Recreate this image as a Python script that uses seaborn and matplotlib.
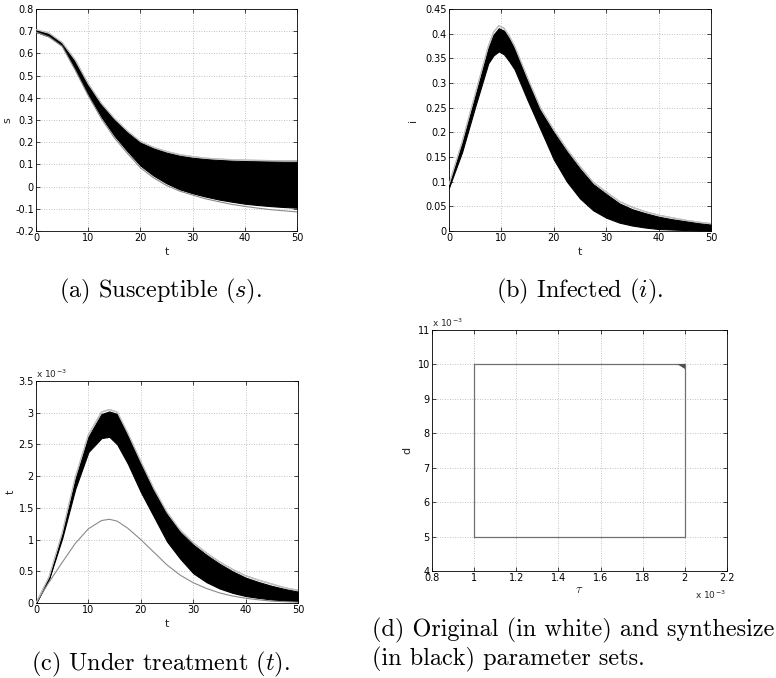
import numpy as np
import pandas as pd
import seaborn as sns
import matplotlib
matplotlib.use("Agg")
import matplotlib.pyplot as plt

sns.set_theme(style="white")
plt.rcParams['font.family'] = ['DejaVu Sans']
plt.rcParams['mathtext.fontset'] = 'cm'

# ---------------- data ----------------
t_a = [0, 2.5, 5, 7.5, 10, 12.5, 15, 17.5, 20, 22.5, 25, 27.5, 30, 32.5, 35, 37.5, 40, 42.5, 45, 47.5, 50]
s_hi = [0.705, 0.688, 0.645, 0.565, 0.458, 0.37, 0.302, 0.245, 0.198, 0.172, 0.153, 0.139, 0.13, 0.124, 0.12, 0.117, 0.115, 0.114, 0.113, 0.112, 0.112]
s_lo = [0.697, 0.676, 0.635, 0.53, 0.415, 0.315, 0.23, 0.16, 0.095, 0.05, 0.015, -0.012, -0.03, -0.045, -0.058, -0.068, -0.077, -0.083, -0.088, -0.092, -0.095]
s_orig_hi = [0.707, 0.691, 0.649, 0.57, 0.463, 0.375, 0.307, 0.25, 0.203, 0.177, 0.158, 0.144, 0.135, 0.128, 0.124, 0.121, 0.119, 0.118, 0.117, 0.117, 0.117]
s_orig_lo = [0.696, 0.674, 0.632, 0.525, 0.41, 0.307, 0.22, 0.15, 0.085, 0.04, 0.005, -0.02, -0.038, -0.055, -0.068, -0.08, -0.089, -0.097, -0.104, -0.109, -0.114]

t_b = [0, 2.5, 5, 7.5, 8.5, 9.5, 10.5, 11.5, 12.5, 15, 17.5, 20, 22.5, 25, 27.5, 30, 32.5, 35, 37.5, 40, 42.5, 45, 47.5, 50]
i_hi = [0.092, 0.177, 0.273, 0.37, 0.398, 0.411, 0.406, 0.39, 0.37, 0.305, 0.243, 0.20, 0.161, 0.126, 0.095, 0.075, 0.056, 0.044, 0.036, 0.029, 0.024, 0.02, 0.016, 0.013]
i_lo = [0.088, 0.16, 0.252, 0.34, 0.356, 0.364, 0.358, 0.344, 0.328, 0.265, 0.205, 0.145, 0.10, 0.066, 0.042, 0.027, 0.017, 0.011, 0.007, 0.004, 0.003, 0.002, 0.001, 0.001]
i_orig_hi = [0.094, 0.18, 0.277, 0.374, 0.403, 0.416, 0.411, 0.395, 0.375, 0.31, 0.248, 0.205, 0.166, 0.131, 0.099, 0.079, 0.06, 0.048, 0.039, 0.032, 0.027, 0.022, 0.018, 0.015]

t_c = [0, 2.5, 5, 7.5, 10, 12.5, 14, 15.5, 17.5, 20, 22.5, 25, 27.5, 30, 32.5, 35, 37.5, 40, 42.5, 45, 47.5, 50]
tr_hi = [0, 0.4, 1.08, 1.95, 2.62, 2.98, 3.02, 2.98, 2.65, 2.2, 1.77, 1.4, 1.12, 0.92, 0.76, 0.62, 0.5, 0.4, 0.33, 0.27, 0.22, 0.18]
tr_lo = [0, 0.38, 1.02, 1.8, 2.38, 2.6, 2.62, 2.5, 2.2, 1.75, 1.36, 0.97, 0.7, 0.47, 0.33, 0.23, 0.16, 0.11, 0.08, 0.055, 0.04, 0.03]
tr_orig_hi = [0, 0.41, 1.1, 1.98, 2.65, 3.01, 3.05, 3.01, 2.68, 2.23, 1.8, 1.43, 1.15, 0.95, 0.79, 0.65, 0.53, 0.43, 0.36, 0.3, 0.24, 0.2]
tr_orig_lo = [0, 0.33, 0.64, 0.94, 1.17, 1.3, 1.32, 1.29, 1.18, 1.0, 0.8, 0.6, 0.44, 0.32, 0.23, 0.16, 0.11, 0.075, 0.05, 0.03, 0.02, 0.012]

tau_box = [1.0, 2.0, 2.0, 1.0, 1.0]
d_box = [5.0, 5.0, 10.0, 10.0, 5.0]
tri_tau = [1.965, 2.0, 2.0]
tri_d = [10.0, 10.0, 9.88]

captions = ["(a) Susceptible ($s$).", "(b) Infected ($i$).", "(c) Under treatment ($t$).",
            "(d) Original (in white) and synthesize\n(in black) parameter sets."]

# ---------------- figure ----------------
fig = plt.figure(figsize=(7.76, 6.78), dpi=100)
W, H = 776, 678

def ax_px(l, t, r, b):
    return fig.add_axes([l / W, 1 - b / H, (r - l) / W, (b - t) / H])

ax_a = ax_px(36, 9, 297, 231)
ax_b = ax_px(449, 9, 711, 231)
ax_c = ax_px(36, 381, 298, 603)
ax_d = ax_px(432, 330, 727, 571)

GREY = "#8a8a8a"
TF = 7

def style(ax):
    ax.grid(True, linestyle=(0, (1, 2)), color="#b0b0b0", linewidth=0.6)
    ax.tick_params(direction="in", length=3, width=0.5, labelsize=TF, pad=1.5,
                   top=True, right=True, bottom=True, left=True, colors="black")
    for sp in ax.spines.values():
        sp.set_linewidth(0.6)
        sp.set_color("black")
        sp.set_visible(True)
    ax.set_facecolor("white")

def band(ax, t, lo, hi, ohi, olo=None):
    ax.fill_between(t, lo, hi, color="black", linewidth=0.8, edgecolor="black", zorder=3)
    df = pd.DataFrame({"t": t, "v": ohi})
    sns.lineplot(data=df, x="t", y="v", ax=ax, color=GREY, linewidth=0.9, zorder=4, estimator=None)
    sns.lineplot(data=df, x="t", y="v", ax=ax, color="white", linewidth=0.3, zorder=5, estimator=None)
    if olo is not None:
        df2 = pd.DataFrame({"t": t, "v": olo})
        sns.lineplot(data=df2, x="t", y="v", ax=ax, color=GREY, linewidth=0.8, zorder=4, estimator=None)

xt = [0, 10, 20, 30, 40, 50]

# (a)
style(ax_a)
band(ax_a, t_a, s_lo, s_hi, s_orig_hi, s_orig_lo)
ax_a.set_xlim(0, 50); ax_a.set_ylim(-0.2, 0.8)
ax_a.set_xticks(xt)
ax_a.set_yticks(np.arange(-0.2, 0.81, 0.1))
ax_a.set_yticklabels(["-0.2", "-0.1", "0", "0.1", "0.2", "0.3", "0.4", "0.5", "0.6", "0.7", "0.8"])
ax_a.set_xlabel("t", fontsize=8, labelpad=3)
ax_a.set_ylabel("s", fontsize=8, labelpad=2)

# (b)
style(ax_b)
band(ax_b, t_b, i_lo, i_hi, i_orig_hi)
ax_b.set_xlim(0, 50); ax_b.set_ylim(0, 0.45)
ax_b.set_xticks(xt)
ax_b.set_yticks(np.arange(0, 0.451, 0.05))
ax_b.set_yticklabels(["0", "0.05", "0.1", "0.15", "0.2", "0.25", "0.3", "0.35", "0.4", "0.45"])
ax_b.set_xlabel("t", fontsize=8, labelpad=3)
ax_b.set_ylabel("i", fontsize=8, labelpad=5)

# (c)
style(ax_c)
band(ax_c, t_c, tr_lo, tr_hi, tr_orig_hi, tr_orig_lo)
ax_c.set_xlim(0, 50); ax_c.set_ylim(0, 3.5)
ax_c.set_xticks(xt)
ax_c.set_yticks(np.arange(0, 3.51, 0.5))
ax_c.set_yticklabels(["0", "0.5", "1", "1.5", "2", "2.5", "3", "3.5"])
ax_c.set_xlabel("t", fontsize=8, labelpad=3)
ax_c.set_ylabel("t", fontsize=8, labelpad=2)
ax_c.text(0.0, 1.005, r"x 10$^{\mathregular{-3}}$", transform=ax_c.transAxes, fontsize=6.5, va="bottom", ha="left")

# (d)
style(ax_d)
df_box = pd.DataFrame({"tau": tau_box, "d": d_box})
sns.lineplot(data=df_box, x="tau", y="d", ax=ax_d, sort=False, estimator=None,
             color="#707070", linewidth=0.9, zorder=4)
ax_d.fill(tri_tau, tri_d, color="#505050", zorder=5, linewidth=0)
ax_d.set_xlim(0.8, 2.2); ax_d.set_ylim(4, 11)
ax_d.set_xticks([0.8, 1.0, 1.2, 1.4, 1.6, 1.8, 2.0, 2.2])
ax_d.set_xticklabels(["0.8", "1", "1.2", "1.4", "1.6", "1.8", "2", "2.2"])
ax_d.set_yticks([4, 5, 6, 7, 8, 9, 10, 11])
ax_d.set_yticklabels(["4", "5", "6", "7", "8", "9", "10", "11"])
ax_d.set_xlabel(r"$\tau$", fontsize=9, labelpad=0)
ax_d.set_ylabel("d", fontsize=8, labelpad=4)
ax_d.text(0.0, 1.005, r"x 10$^{\mathregular{-3}}$", transform=ax_d.transAxes, fontsize=6.5, va="bottom", ha="left")
ax_d.text(0.995, -0.075, r"x 10$^{\mathregular{-3}}$", transform=ax_d.transAxes, fontsize=6.5, va="top", ha="right")

# captions
cf = dict(fontsize=17.5, family="cmr10", color="black")
fig.text(160 / W, 1 - 291 / H, captions[0], ha="center", va="center", **cf)
fig.text(580 / W, 1 - 291 / H, captions[1], ha="center", va="center", **cf)
fig.text(160 / W, 1 - 664 / H, captions[2], ha="center", va="center", **cf)
fig.text(372 / W, 1 - 645 / H, captions[3], ha="left", va="center", linespacing=1.24, **cf)

fig.savefig("out.png", dpi=100, facecolor="white")
